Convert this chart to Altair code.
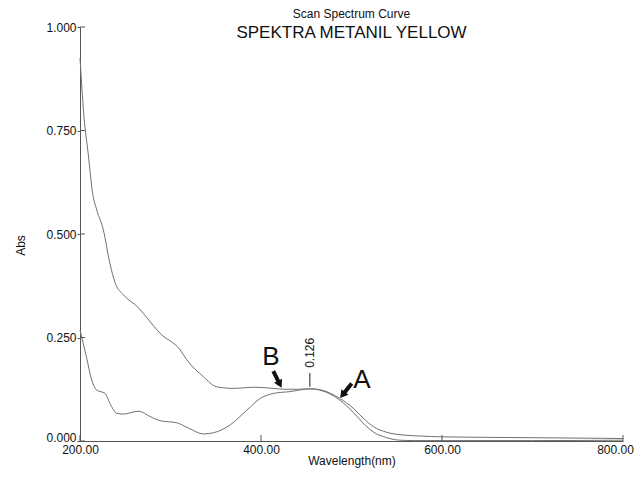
import altair as alt
import pandas as pd

# ---- data ----
wl_upper = [200, 204.4, 209, 214, 218.5, 225.8, 233, 239, 248, 264.6, 276, 288.6, 310.7, 318, 336.5, 351,
            369.8, 392, 414, 425, 440, 455, 465, 487, 502, 513, 524, 539, 557, 576, 601, 700, 776, 800]
abs_upper = [0.925, 0.783, 0.695, 0.598, 0.558, 0.510, 0.429, 0.381, 0.353, 0.322, 0.292, 0.260, 0.220, 0.196,
             0.155, 0.131, 0.127, 0.130, 0.127, 0.125, 0.125, 0.126, 0.124, 0.103, 0.079, 0.055, 0.035, 0.021,
             0.0145, 0.012, 0.010, 0.008, 0.0065, 0.006]

wl_lower = [200, 207, 213, 218.5, 227.7, 233, 240.6, 248, 264.6, 277.5, 288.6, 307, 320, 336.5, 347.6, 366,
            384.6, 399.3, 414, 430.7, 455, 465, 487, 502, 513, 524, 539, 553, 570, 600, 700, 800]
abs_lower = [0.268, 0.204, 0.147, 0.123, 0.115, 0.091, 0.067, 0.065, 0.072, 0.059, 0.049, 0.044, 0.031, 0.017,
             0.020, 0.039, 0.075, 0.103, 0.115, 0.119, 0.126, 0.123, 0.099, 0.069, 0.043, 0.022, 0.008, 0.002,
             0.001, 0.001, 0.001, 0.002]

x_ticks = [200, 400, 600, 800]
y_ticks = [0.0, 0.25, 0.5, 0.75, 1.0]

peak_wl = 454
peak_label = "0.126"

# annotation anchors (data units)
letters = ["B", "A"]
letter_wl = [411, 511.6]
letter_abs = [0.203, 0.147]

arrow_tail_wl = [413.6, 500.2]
arrow_tail_abs = [0.169, 0.139]
arrow_end_wl = [420.8, 490.1]
arrow_end_abs = [0.137, 0.111]
arrow_angle = [333, 38]

FONT = "Liberation Sans"
LINE = "#707070"
AXIS = "#555555"

df = pd.concat([
    pd.DataFrame({"wl": wl_upper, "abs": abs_upper, "curve": "upper"}),
    pd.DataFrame({"wl": wl_lower, "abs": abs_lower, "curve": "lower"}),
])

xs = alt.Scale(domain=[200, 800], nice=False, zero=False)
ys = alt.Scale(domain=[0, 1], nice=False, zero=False)

lines = alt.Chart(df).mark_line(color=LINE, strokeWidth=1, interpolate="monotone").encode(
    x=alt.X("wl:Q", scale=xs, axis=alt.Axis(
        values=x_ticks, format=".2f", title="Wavelength(nm)", ticks=False,
        labelPadding=3, titlePadding=0, labelFlush=False,
        labelOffset=alt.expr("datum.value == 800 ? -8 : 0"))),
    y=alt.Y("abs:Q", scale=ys, axis=alt.Axis(
        values=y_ticks, format=".3f", title="Abs", tickSize=3, labelPadding=1,
        labelOffset=alt.expr("datum.value == 0 ? -4 : 0"),
        titleAngle=-90, titleX=-60, titleY=218, titleAlign="center", titleBaseline="middle")),
    detail="curve:N",
)

xt = alt.Chart(pd.DataFrame({"t": x_ticks})).mark_rule(color=AXIS, strokeWidth=1).encode(
    x=alt.X("t:Q", scale=xs), y=alt.datum(0), y2=alt.datum(0.0145))
yt = alt.Chart(pd.DataFrame({"t": y_ticks})).mark_rule(color=AXIS, strokeWidth=1).encode(
    y=alt.Y("t:Q", scale=ys), x=alt.datum(200), x2=alt.datum(205.5))

peak_df = pd.DataFrame({"wl": [peak_wl], "lab": [peak_label]})
peak_rule = alt.Chart(peak_df).mark_rule(color="#222", strokeWidth=1).encode(
    x=alt.X("wl:Q", scale=xs), y=alt.datum(0.131), y2=alt.datum(0.164))
peak_text = alt.Chart(peak_df).mark_text(font=FONT, fontSize=12, angle=270, color="#111",
                                         align="center", baseline="middle").encode(
    x=alt.X("wl:Q", scale=xs), y=alt.datum(0.213), text="lab:N")

let_df = pd.DataFrame({"wl": letter_wl, "abs": letter_abs, "t": letters})
let_text = alt.Chart(let_df).mark_text(font=FONT, fontSize=26, color="#111",
                                       align="center", baseline="middle").encode(
    x=alt.X("wl:Q", scale=xs), y=alt.Y("abs:Q", scale=ys), text="t:N")

arr_df = pd.DataFrame({"x1": arrow_tail_wl, "y1": arrow_tail_abs, "x2": arrow_end_wl,
                       "y2": arrow_end_abs, "ang": arrow_angle})
arr_shaft = alt.Chart(arr_df).mark_rule(color="#111", strokeWidth=4).encode(
    x=alt.X("x1:Q", scale=xs), y=alt.Y("y1:Q", scale=ys), x2="x2:Q", y2="y2:Q")
arr_head = alt.Chart(arr_df).mark_point(shape="triangle-down", filled=True, size=80,
                                        color="#111", opacity=1).encode(
    x=alt.X("x2:Q", scale=xs), y=alt.Y("y2:Q", scale=ys), angle=alt.Angle("ang:Q", scale=None))

chart = alt.layer(lines, xt, yt, peak_rule, peak_text, let_text, arr_shaft, arr_head).properties(
    width=543, height=414,
    autosize=alt.AutoSizeParams(type="none"),
    padding={"left": 72, "top": 19, "right": 11, "bottom": 28},
    title=alt.TitleParams(
        text="Scan Spectrum Curve", subtitle="SPEKTRA METANIL YELLOW",
        font=FONT, subtitleFont=FONT, fontSize=12, subtitleFontSize=17,
        fontWeight="normal", color="#111", subtitleColor="#111",
        anchor="middle", offset=-21, subtitlePadding=4),
).configure_view(stroke=None).configure_axis(
    grid=False, domainColor=AXIS, tickColor=AXIS, labelFont=FONT, titleFont=FONT,
    labelFontSize=12, titleFontSize=12, titleFontWeight="normal",
    labelColor="#111", titleColor="#111",
)

chart.save("out.html", embed_options={"renderer": "svg", "actions": False})
